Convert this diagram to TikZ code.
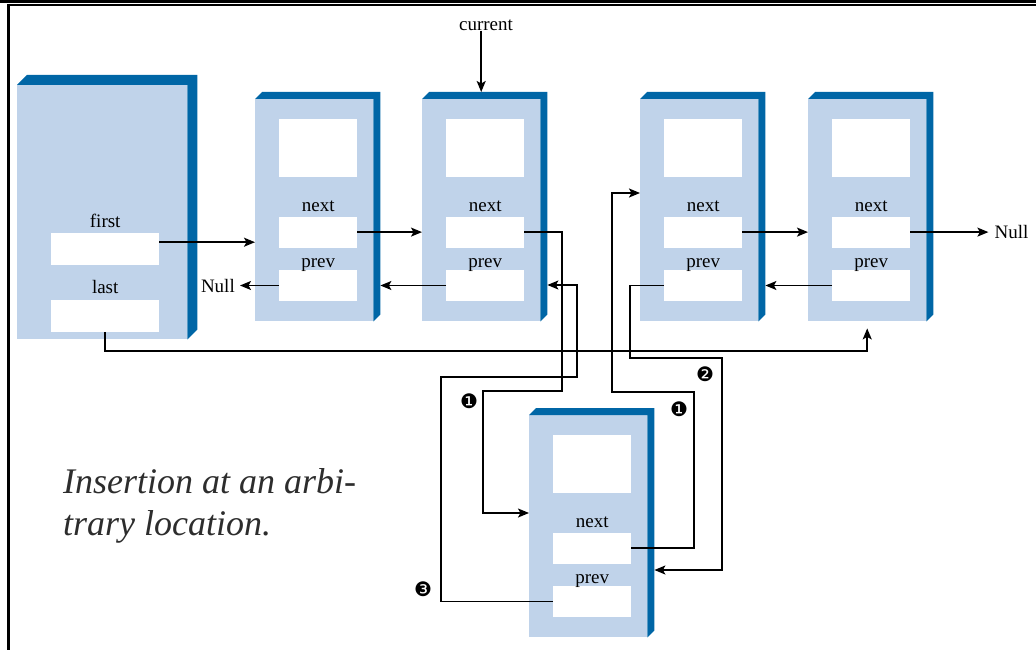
\documentclass[tikz,border=0pt]{standalone}
\usepackage{fontspec}
\setmainfont{Liberation Serif}
\newfontfamily\symfont{DejaVu Sans}
\usetikzlibrary{positioning,arrows.meta}
\definecolor{facebl}{RGB}{192,211,234}
\definecolor{sidebl}{RGB}{0,102,166}
\definecolor{captgray}{RGB}{45,45,45}

\begin{document}
\begin{tikzpicture}[x=1pt, y=-1pt, every node/.style={font=\fontsize{19}{22}\selectfont},
  face/.style={fill=facebl, inner sep=0, minimum width=118pt, minimum height=222pt, anchor=north west},
  field/.style={fill=white, inner sep=0, minimum width=78pt, minimum height=31pt},
  lbl/.style={inner sep=0, text depth=0pt},
  arr/.style={-{Stealth[length=11pt,width=9pt,inset=2.5pt]}, line width=1.6pt},
  stepnum/.style={font=\symfont\fontsize{20}{20}\selectfont, inner sep=0}]
\useasboundingbox (0,0) rectangle (1036,650);

% frame
\draw[line width=2.2pt] (0,1.5) -- (1036,1.5);
\draw[line width=2pt] (8,5) -- (1036,5);
\draw[line width=2.7pt] (8.7,4) -- (8.7,650);

% list object
\node[face, minimum width=170pt, minimum height=254pt] (head) at (17,85) {};
\fill[sidebl] (head.north west) -- ([shift={(10,-10)}]head.north west) -- ([shift={(10,-10)}]head.north east)
  -- ([shift={(10,-10)}]head.south east) -- (head.south east) -- (head.north east) -- cycle;
\node[field, minimum width=108pt, minimum height=32pt, below right=148pt and 34pt of head.north west] (head-first) {};
\node[field, minimum width=108pt, minimum height=32pt, below=34pt of head-first] (head-last) {};
\node[lbl, above=5pt of head-first] {first};
\node[lbl, above=6pt of head-last] {last};

% list nodes
\foreach \n/\x/\y in {n1/255/99, n2/422/99, n3/640/99, n4/808/99, newn/529/415} {
  \node[face] (\n) at (\x,\y) {};
  \fill[sidebl] (\n.north west) -- ([shift={(7,-7)}]\n.north west) -- ([shift={(7,-7)}]\n.north east)
    -- ([shift={(7,-7)}]\n.south east) -- (\n.south east) -- (\n.north east) -- cycle;
  \coordinate (\n-side) at ([xshift=7pt]\n.east);
  \node[field, minimum height=58pt, below right=20pt and 24pt of \n.north west] (\n-data) {};
  \node[field, below=39pt of \n-data] (\n-next) {};
  \node[field, below=22pt of \n-next] (\n-prev) {};
  \node[lbl, above=5pt of \n-next] {next};
  \node[lbl, above=2pt of \n-prev] {prev};
}

\node[lbl] (cur) at (486,25) {current};
\node[lbl, left=44pt of n1-prev] (null1) {Null};
\node[lbl, right=84pt of n4-next] (null2) {Null};

% links
\coordinate (fp) at ([yshift=7pt]head-first.east);
\draw[arr] (fp) -- (fp -| n1.west);
\draw[arr] (n1-next.east) -- (n1-next.east -| n2.west);
\draw[arr] (n2-prev.west) -- (n2-prev.west -| n1-side);
\draw[arr] (n1-prev.west) -- ([xshift=5pt]null1.east);
\draw[arr] (cur.south -| n2.north) -- ([yshift=7pt]n2.north);
\draw[arr] (n3-next.east) -- (n3-next.east -| n4.west);
\draw[arr] (n4-prev.west) -- (n4-prev.west -| n3-side);
\draw[arr] (n4-next.east) -- ([xshift=-6pt]null2.west);
\draw[arr] (head-last.south) -- ++(0,19) -| ([yshift=-7pt]n4.south);

% insertion
\draw[arr] (n2-next.east) -| (562,391) -| (483,513) -- (483,513 -| newn.west);
\draw[arr] (newn-prev.west) -| (441,377) -| (577,285) -- (577,285 -| n2-side);
\draw[arr] (newn-next.east) -| (694,392) -| (612,193) -- (612,193 -| n3.west);
\draw[arr] (n3-prev.west) -| (630,358) -| (722,570) -- (722,570 -| newn-side);

\node[stepnum] (s1a) at (469,401) {❶};
\node[stepnum] (s1b) at (679,409) {❶};
\node[stepnum] (s2) at (705,374) {❷};
\node[stepnum] (s3) at (423,589) {❸};

\node[anchor=north west, align=left, inner sep=0, text=captgray, font=\fontsize{36}{42}\selectfont\itshape] (cap) at (63,468) {Insertion at an arbi-\\trary location.};
\end{tikzpicture}
\end{document}
